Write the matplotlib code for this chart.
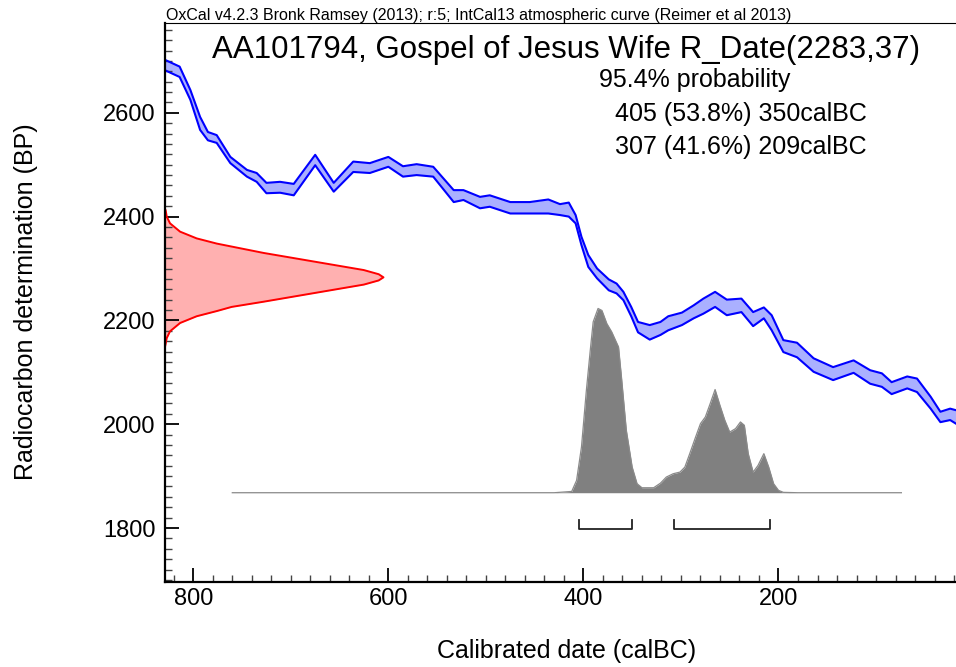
import matplotlib
matplotlib.use('Agg')
import matplotlib.pyplot as plt
from matplotlib.ticker import MultipleLocator

plt.rcParams['font.family'] = ['Liberation Sans', 'DejaVu Sans']

# IntCal13 band: calBC, upper BP, lower BP
cal_years = [829, 814, 803, 793, 785, 776, 762, 745, 735, 725, 711, 697, 675, 656,
             636, 619, 600, 585, 571, 554, 533, 523, 506, 496, 475, 455, 436, 424,
             415, 408, 402, 395, 386, 374, 366, 359, 351, 344, 332, 321, 313, 299,
             287, 277, 265, 253, 238, 226, 215, 207, 195, 181, 164, 144, 123, 106,
             94, 84, 68, 58, 44, 34, 24, 18]
curve_upper = [2702, 2689, 2644, 2592, 2563, 2557, 2515, 2490, 2484, 2465, 2467, 2463,
               2519, 2465, 2506, 2503, 2515, 2497, 2501, 2496, 2451, 2451, 2438, 2441,
               2428, 2428, 2433, 2424, 2427, 2403, 2361, 2326, 2300, 2279, 2271, 2255,
               2226, 2197, 2191, 2197, 2208, 2215, 2229, 2242, 2255, 2240, 2242, 2216,
               2225, 2210, 2162, 2157, 2127, 2110, 2123, 2104, 2098, 2081, 2092, 2088,
               2053, 2024, 2030, 2027]
curve_lower = [2682, 2669, 2625, 2567, 2547, 2542, 2503, 2477, 2467, 2445, 2446, 2441,
               2499, 2448, 2486, 2484, 2496, 2477, 2480, 2477, 2428, 2432, 2416, 2419,
               2406, 2406, 2406, 2403, 2400, 2387, 2345, 2303, 2281, 2258, 2252, 2239,
               2208, 2177, 2163, 2172, 2181, 2191, 2204, 2213, 2226, 2210, 2216, 2189,
               2204, 2181, 2139, 2129, 2101, 2085, 2099, 2078, 2072, 2058, 2069, 2062,
               2030, 2004, 2008, 2001]

# Radiocarbon measurement R_Date(2283,37), read as relative density
rdate_bp = [2412, 2400, 2387, 2371, 2358, 2348, 2339, 2330, 2319, 2308, 2297, 2289,
            2283, 2277, 2269, 2258, 2247, 2236, 2226, 2218, 2208, 2195, 2179, 2166,
            2155, 2149]
rdate_dens = [0.003, 0.008, 0.023, 0.069, 0.145, 0.237, 0.344, 0.451, 0.604, 0.757,
              0.910, 0.978, 1.0, 0.978, 0.910, 0.757, 0.604, 0.451, 0.305, 0.237,
              0.145, 0.069, 0.023, 0.008, 0.003, 0.0]

# Calibrated probability distribution (relative)
prob_years = [760, 430, 412, 407, 402, 397, 393, 390, 385, 381, 376, 371, 364, 361,
              356, 350, 345, 340, 328, 321, 315, 308, 301, 296, 291, 285, 280, 275,
              270, 265, 260, 255, 250, 244, 239, 235, 231, 226, 221, 215, 210, 205,
              200, 195, 180, 74]
prob_vals = [0.0, 0.0, 0.007, 0.067, 0.248, 0.554, 0.772, 0.927, 1.0, 0.989, 0.918,
             0.873, 0.791, 0.628, 0.339, 0.139, 0.049, 0.027, 0.027, 0.052, 0.085,
             0.103, 0.112, 0.139, 0.212, 0.302, 0.375, 0.411, 0.484, 0.560, 0.474,
             0.393, 0.329, 0.348, 0.384, 0.366, 0.212, 0.112, 0.148, 0.212, 0.139,
             0.049, 0.013, 0.002, 0.0, 0.0]

# 95.4% ranges
ranges = [(405, 350), (307, 209)]

title = 'AA101794, Gospel of Jesus Wife R_Date(2283,37)'
header = 'OxCal v4.2.3 Bronk Ramsey (2013); r:5; IntCal13 atmospheric curve (Reimer et al 2013)'
range_lines = ['405 (53.8%) 350calBC', '307 (41.6%) 209calBC']

x_lo, x_hi = 829, 18
y_lo, y_hi = 1696, 2773

fig = plt.figure(figsize=(9.56, 6.67), dpi=100)
W, H = 956, 667
ax = fig.add_axes([165 / W, 1 - 582 / H, (W - 165) / W, (582 - 23) / H])

# calibration curve
ax.fill_between(cal_years, curve_lower, curve_upper, color='#aab0ff', lw=0)
ax.plot(cal_years, curve_upper, color='#0000ff', lw=1.5)
ax.plot(cal_years, curve_lower, color='#0000ff', lw=1.5)

# R_Date on the y axis
r_width = 224
r_x = [x_lo - d * r_width for d in rdate_dens]
ax.fill_betweenx(rdate_bp, x_lo, r_x, color='#ffb0b0', lw=0)
ax.plot(r_x, rdate_bp, color='#ff0000', lw=1.4)

# calibrated distribution
base = 1868
p_height = 355
p_y = [base + p * p_height for p in prob_vals]
ax.fill_between(prob_years, base, p_y, color='#808080', lw=0)
ax.plot(prob_years, p_y, color='#8a8a8a', lw=0.9)

# range brackets
for start, end in ranges:
    ax.plot([start, start, end, end], [1816, 1799, 1799, 1816], color='#222222', lw=1.3)

ax.set_xlim(x_lo, x_hi)
ax.set_ylim(y_lo, y_hi)
ax.xaxis.set_major_locator(MultipleLocator(200))
ax.xaxis.set_minor_locator(MultipleLocator(20))
ax.yaxis.set_major_locator(MultipleLocator(200))
ax.yaxis.set_minor_locator(MultipleLocator(20))
ax.tick_params(which='both', direction='in', top=False, right=False, labelsize=17)
ax.tick_params(which='major', length=10, width=1.3)
ax.tick_params(which='minor', length=5, width=1.0, color='#444444')
ax.tick_params(axis='x', pad=4)
ax.tick_params(axis='y', pad=7)
ax.spines['right'].set_visible(False)
ax.spines['top'].set_linewidth(0.8)
ax.spines['left'].set_linewidth(1.6)
ax.spines['bottom'].set_linewidth(1.6)

# texts
fig.text(166 / W, 1 - 20 / H, header, fontsize=11.5, ha='left', va='baseline')
fig.text(566 / W, 1 - 58 / H, title, fontsize=22.5, ha='center', va='baseline')
fig.text(599 / W, 1 - 87 / H, '95.4% probability', fontsize=18, ha='left', va='baseline')
fig.text(615 / W, 1 - 121 / H, range_lines[0], fontsize=18, ha='left', va='baseline')
fig.text(615 / W, 1 - 154 / H, range_lines[1], fontsize=18, ha='left', va='baseline')
fig.text(567 / W, 1 - 651 / H, 'Calibrated date (calBC)', fontsize=18, ha='center', va='center')
fig.text(26 / W, 1 - 302 / H, 'Radiocarbon determination (BP)', fontsize=18,
         ha='center', va='center', rotation=90)

fig.savefig('out.png', dpi=100)
